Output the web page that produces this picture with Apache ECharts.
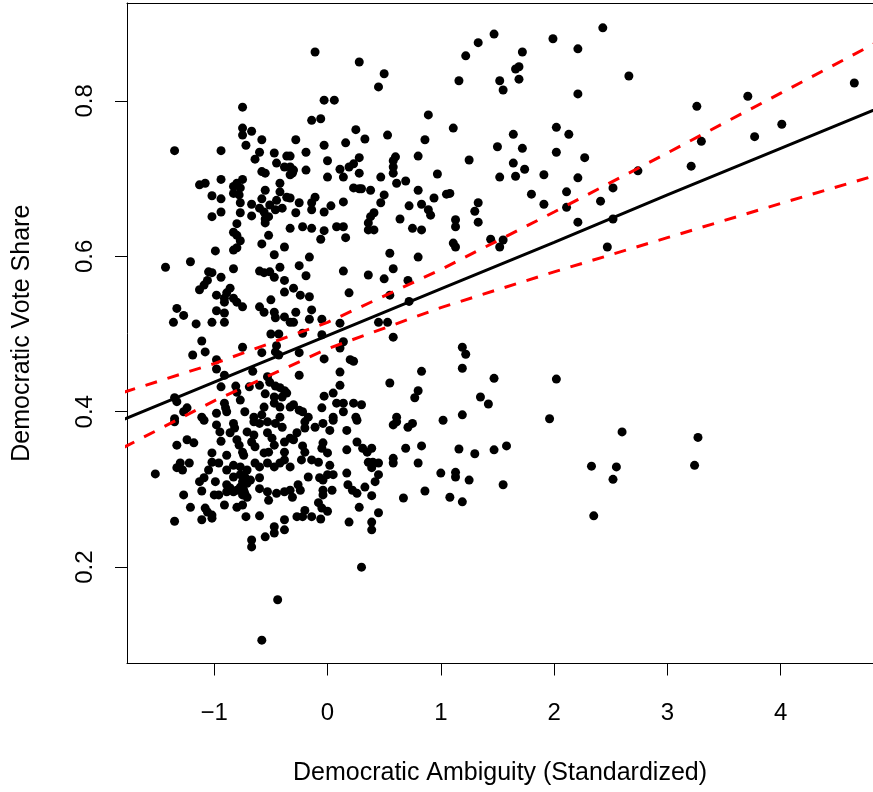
<!DOCTYPE html>
<html>
<head>
<meta charset="utf-8">
<script src="https://cdn.jsdelivr.net/npm/echarts@6/dist/echarts.min.js"></script>
<style>
  body { margin: 0; background: #fff; }
  #scatter { width: 873px; height: 792px; }
</style>
</head>
<body>
<div id="scatter"></div>
<script>
  // 数据点: [民主党模糊度(标准化), 民主党得票率]
  let points = [
    [2.43,0.894],[1.47,0.886],[1.33,0.875],[1.22,0.858],[1.99,0.880],[2.21,0.867],[1.72,0.863],[1.66,0.841],
    [1.69,0.844],[1.16,0.826],[1.52,0.826],[1.55,0.814],[1.69,0.828],[2.66,0.832],[2.21,0.809],[4.65,0.823],
    [3.71,0.806],[3.26,0.793],[4.01,0.770],[3.77,0.754],[3.30,0.748],[1.11,0.765],[2.02,0.766],[2.13,0.757],
    [1.64,0.757],[1.50,0.741],[1.72,0.739],[2.02,0.734],[2.27,0.727],[1.25,0.724],[1.64,0.720],[1.52,0.702],
    [1.66,0.703],[1.74,0.712],[1.91,0.705],[2.21,0.701],[2.74,0.710],[3.21,0.716],[1.80,0.680],[2.11,0.683],
    [1.08,0.681],[1.33,0.669],[1.30,0.658],[1.91,0.667],[2.11,0.663],[2.41,0.671],[2.52,0.688],[1.13,0.647],
    [1.13,0.638],[1.33,0.644],[2.21,0.644],[2.52,0.648],[1.44,0.622],[1.55,0.621],[1.52,0.612],[1.11,0.617],
    [1.13,0.612],[2.47,0.612],
    [1.19,0.483],[1.22,0.474],[1.19,0.456],[1.47,0.443],[2.02,0.442],[1.35,0.419],[1.42,0.410],[1.19,0.396],
    [1.96,0.391],[2.60,0.374],[3.27,0.367],[1.16,0.352],[1.30,0.346],[1.47,0.351],[1.58,0.356],[1.13,0.322],
    [1.13,0.316],[1.25,0.312],[1.55,0.306],[2.33,0.330],[2.55,0.329],[2.52,0.313],[3.24,0.331],[1.08,0.290],
    [1.19,0.284],[2.35,0.266],
    [-0.11,0.863],[0.28,0.850],[0.50,0.835],[0.45,0.818],[-0.03,0.801],[0.06,0.801],[-0.14,0.775],[-0.06,0.777],
    [0.89,0.782],[-0.28,0.750],[0.25,0.763],[0.33,0.751],[0.53,0.756],[0.86,0.750],[-0.03,0.743],[0.16,0.746],
    [-0.19,0.734],[-0.33,0.729],[0.00,0.723],[0.28,0.727],[0.60,0.728],[0.58,0.723],[0.58,0.715],[0.80,0.729],
    [-0.33,0.715],[-0.30,0.711],[-0.31,0.707],[-0.19,0.711],[0.11,0.712],[0.14,0.702],[0.19,0.715],[0.23,0.719],
    [0.28,0.707],[0.00,0.702],[0.47,0.702],[0.58,0.707],[0.97,0.706],[0.61,0.694],[0.69,0.697],[0.23,0.688],
    [0.28,0.687],[0.30,0.687],[0.38,0.685],[0.80,0.685],[1.05,0.680],[0.94,0.675],[0.50,0.679],[0.47,0.669],
    [-0.33,0.675],[-0.25,0.669],[-0.11,0.676],[-0.14,0.669],[-0.14,0.660],[-0.28,0.656],[-0.03,0.657],[0.03,0.665],
    [0.14,0.670],[0.72,0.665],[0.83,0.667],[0.89,0.660],[0.91,0.653],[0.41,0.656],[0.38,0.651],[0.36,0.643],
    [0.36,0.634],[0.41,0.634],[0.64,0.648],[-0.33,0.636],[-0.22,0.638],[-0.14,0.636],[-0.03,0.633],[-0.06,0.622],
    [0.08,0.638],[0.14,0.638],[0.16,0.624],[0.75,0.636],[0.83,0.634],[-0.16,0.599],[0.55,0.604],[0.80,0.599],
    [-0.75,0.792],[-0.75,0.765],[-0.67,0.761],[-0.75,0.756],[-0.58,0.750],[-0.72,0.743],[-1.35,0.736],[-0.94,0.736],
    [-0.60,0.734],[-0.64,0.725],[-0.47,0.733],[-0.36,0.729],[-0.45,0.720],[-0.38,0.715],[-0.58,0.709],[-0.55,0.707],
    [-0.33,0.705],[-0.94,0.699],[-0.75,0.699],[-1.13,0.692],[-1.08,0.694],[-0.83,0.690],[-0.80,0.694],[-0.77,0.688],
    [-0.83,0.681],[-0.78,0.679],[-0.42,0.694],[-0.55,0.685],[-0.42,0.683],[-0.36,0.676],[-1.02,0.678],[-0.94,0.674],
    [-0.77,0.669],[-0.58,0.674],[-0.67,0.667],[-0.51,0.666],[-0.45,0.672],[-0.40,0.662],[-0.46,0.660],[-0.60,0.662],
    [-0.56,0.657],[-0.94,0.657],[-0.77,0.656],[-1.02,0.651],[-0.67,0.652],[-0.55,0.648],[-0.55,0.643],[-0.52,0.651],
    [-0.80,0.642],[-0.83,0.631],[-0.80,0.627],[-0.52,0.627],[-0.77,0.620],[-0.58,0.616],[-0.38,0.612],[-0.99,0.607],
    [-0.83,0.608],[-0.80,0.611],[-0.47,0.602],[-1.21,0.593],
    [-1.43,0.586],[-1.05,0.580],[-1.02,0.579],[-0.83,0.584],[-0.94,0.573],[-0.60,0.581],[-0.56,0.579],[-0.51,0.580],
    [-0.42,0.586],[-0.47,0.573],[-0.38,0.569],[-1.06,0.569],[-1.09,0.563],[-1.13,0.557],[-0.86,0.559],[-0.89,0.553],
    [-0.91,0.546],[-0.98,0.550],[-0.83,0.546],[-0.80,0.541],[-0.75,0.535],[-0.91,0.541],[-1.33,0.533],[-1.27,0.524],
    [-1.36,0.515],[-1.16,0.513],[-0.98,0.530],[-0.91,0.527],[-1.02,0.515],[-0.91,0.515],[-0.60,0.535],[-0.56,0.528],
    [-0.50,0.544],[-0.38,0.554],[-0.47,0.528],[-0.46,0.521],[-0.38,0.522],[-0.33,0.515],[-0.50,0.500],[-0.43,0.500],
    [-1.11,0.491],[-1.08,0.477],[-1.19,0.473],[-0.75,0.483],[-0.58,0.476],[-0.45,0.485],[-0.46,0.477],[-0.43,0.473],
    [-0.98,0.467],[-0.98,0.455],[-0.66,0.452],[-0.91,0.447],[-0.53,0.445],[-0.51,0.438],[-0.46,0.433],[-0.42,0.431],
    [-0.38,0.427],[-0.94,0.432],[-0.81,0.433],[-0.69,0.432],[-0.60,0.434],[-1.35,0.418],[-1.33,0.413],[-0.55,0.423],
    [-0.47,0.419],[-0.40,0.419],[-0.36,0.424],[-0.80,0.425],[-0.91,0.411],[-0.90,0.405],[-0.77,0.415],[-1.24,0.405],
    [-1.27,0.400],[-0.98,0.398],[-0.89,0.400],[-0.73,0.400],[-0.56,0.406],[-0.58,0.396],[-0.47,0.411],[-0.42,0.406],
    [-0.33,0.406],[-0.42,0.393],[-0.65,0.393],[-1.11,0.393],[-1.35,0.391],
    [-0.25,0.588],[0.14,0.581],[-0.19,0.575],[0.36,0.576],[0.58,0.584],[0.50,0.571],[0.71,0.569],[0.19,0.553],
    [-0.30,0.559],[-0.24,0.550],[-0.16,0.548],[0.55,0.550],[0.72,0.542],[-0.14,0.531],[-0.28,0.528],[-0.16,0.519],
    [-0.30,0.515],[-0.05,0.519],[0.11,0.514],[0.45,0.515],[0.53,0.515],[-0.22,0.501],[-0.05,0.499],[0.58,0.496],
    [0.14,0.490],[0.11,0.482],[-0.25,0.476],[-0.03,0.468],[0.20,0.467],[0.23,0.465],[0.11,0.451],[-0.25,0.447],
    [0.83,0.452],[0.55,0.437],[0.11,0.434],[0.80,0.427],[0.77,0.418],[-0.03,0.420],[0.05,0.424],[-0.30,0.409],
    [-0.25,0.402],[-0.22,0.400],[-0.05,0.405],[0.08,0.411],[0.14,0.411],[0.23,0.411],[0.30,0.409],[0.14,0.400],
    [0.05,0.393],[-0.17,0.393],[0.25,0.393],[0.61,0.393],[1.02,0.389],
    [-1.35,0.387],[-1.09,0.389],[-0.98,0.383],[-0.95,0.374],[-0.83,0.385],[-0.82,0.379],[-0.65,0.387],[-0.60,0.385],
    [-0.53,0.387],[-0.46,0.385],[-0.40,0.380],[-0.71,0.374],[-0.65,0.370],[-1.33,0.357],[-1.24,0.364],[-1.18,0.360],
    [-0.94,0.362],[-0.86,0.373],[-0.80,0.364],[-0.78,0.357],[-0.67,0.361],[-0.64,0.355],[-0.53,0.373],[-0.49,0.366],
    [-0.47,0.357],[-0.38,0.361],[-0.33,0.366],[-0.75,0.348],[-0.74,0.344],[-1.02,0.347],[-0.89,0.344],[-0.56,0.347],
    [-0.52,0.348],[-0.38,0.348],[-1.30,0.334],[-1.33,0.328],[-1.28,0.325],[-1.22,0.334],[-1.52,0.320],[-1.02,0.335],
    [-0.96,0.334],[-0.83,0.331],[-0.77,0.329],[-0.71,0.325],[-0.89,0.325],[-0.64,0.334],[-0.60,0.329],[-0.53,0.334],
    [-0.47,0.329],[-0.42,0.334],[-0.38,0.338],[-0.33,0.329],[-1.05,0.325],[-0.83,0.316],[-0.77,0.319],[-0.73,0.316],
    [-0.75,0.310],[-0.71,0.308],[-0.68,0.312],[-0.60,0.315],[-1.13,0.310],[-1.09,0.315],[-0.99,0.310],[-0.89,0.306],
    [-0.86,0.302],[-0.89,0.297],[-0.83,0.297],[-0.80,0.299],[-0.77,0.303],[-0.74,0.299],[-0.73,0.295],[-0.71,0.290],
    [-0.75,0.293],[-1.11,0.298],[-1.00,0.293],[-0.96,0.293],[-0.60,0.301],[-0.53,0.297],[-0.52,0.286],[-0.45,0.295],
    [-0.38,0.297],[-0.33,0.299],[-1.27,0.293],[-0.91,0.280],[-0.80,0.277],[-0.75,0.280],[-1.21,0.277],[-1.08,0.276],
    [-1.06,0.271],[-1.02,0.267],[-1.02,0.263],[-1.11,0.261],[-1.35,0.259],[-0.72,0.265],[-0.60,0.266],[-0.38,0.261],
    [-0.47,0.252],[-0.47,0.244],[-0.38,0.248],[-0.55,0.239],[-0.67,0.235],[-0.67,0.226],
    [-0.20,0.387],[-0.11,0.380],[-0.04,0.385],[0.05,0.389],[-0.20,0.379],[-0.27,0.373],[-0.30,0.364],[0.02,0.376],
    [0.17,0.376],[0.26,0.389],[0.58,0.383],[0.61,0.387],[0.71,0.380],[0.75,0.385],[-0.22,0.356],[-0.20,0.348],
    [-0.23,0.338],[-0.04,0.360],[-0.05,0.353],[0.00,0.347],[-0.14,0.338],[-0.08,0.335],[0.02,0.331],[0.05,0.319],
    [0.00,0.319],[-0.07,0.315],[-0.04,0.312],[-0.17,0.316],[0.17,0.351],[0.26,0.361],[0.31,0.353],[0.35,0.348],
    [0.39,0.353],[0.36,0.335],[0.40,0.335],[0.45,0.334],[0.39,0.328],[0.17,0.321],[0.45,0.319],[0.42,0.310],
    [0.58,0.340],[0.58,0.334],[0.69,0.353],[0.83,0.356],[0.80,0.334],[1.00,0.321],[-0.26,0.306],[-0.24,0.299],
    [-0.31,0.290],[-0.04,0.299],[-0.04,0.293],[0.04,0.299],[0.18,0.306],[0.22,0.299],[0.26,0.295],[0.33,0.303],
    [0.39,0.292],[0.28,0.277],[0.45,0.270],[-0.08,0.283],[-0.05,0.276],[0.00,0.272],[-0.20,0.273],[-0.27,0.265],
    [-0.22,0.265],[-0.14,0.265],[-0.06,0.262],[0.19,0.258],[0.39,0.258],[0.39,0.248],[0.67,0.289],[0.86,0.298],
    [0.30,0.200],[-0.44,0.158],[-0.58,0.106]
  ];

  // 回归线和置信区间
  let bandX  = [-1.8, -1, 0, 1, 2, 3, 4, 5];
  let fitY   = [0.390, 0.438, 0.498, 0.558, 0.618, 0.679, 0.739, 0.799];
  let upperY = [0.425, 0.462, 0.515, 0.583, 0.657, 0.733, 0.810, 0.887];
  let lowerY = [0.354, 0.414, 0.481, 0.534, 0.580, 0.624, 0.668, 0.711];

  // 刻度
  let xTicks = [-1, 0, 1, 2, 3, 4];
  let yTicks = [0.2, 0.4, 0.6, 0.8];

  function pairs(xs, ys) {
    return xs.map(function (x, i) { return [x, ys[i]]; });
  }

  let font = 'Liberation Sans, Arial, sans-serif';
  let chart = echarts.init(document.getElementById('scatter'));

  chart.setOption({
    animation: false,
    backgroundColor: '#fff',
    grid: { left: 127, top: 3, right: 0, bottom: 128.5 },
    xAxis: [{
      type: 'value',
      min: -1.77,
      max: 4.815,
      name: 'Democratic Ambiguity (Standardized)',
      nameLocation: 'middle',
      nameGap: 97,
      nameTextStyle: { color: '#000', fontSize: 25, fontFamily: font },
      splitLine: { show: false },
      axisLine: { onZero: false, lineStyle: { color: '#000', width: 1 } },
      axisTick: { customValues: xTicks, length: 12, lineStyle: { color: '#000' } },
      axisLabel: {
        customValues: xTicks,
        margin: 38,
        color: '#000',
        fontSize: 24,
        fontFamily: font,
        formatter: function (v) { return v < 0 ? '\u2212' + Math.abs(v) : String(v); }
      }
    }, {
      // 上边框
      type: 'value',
      position: 'top',
      min: -1.77,
      max: 4.815,
      splitLine: { show: false },
      axisLine: { onZero: false, lineStyle: { color: '#000', width: 1 } },
      axisTick: { show: false },
      axisLabel: { show: false }
    }],
    yAxis: {
      type: 'value',
      min: 0.076,
      max: 0.926,
      name: 'Democratic Vote Share',
      nameLocation: 'middle',
      nameGap: 92,
      nameTextStyle: { color: '#000', fontSize: 25, fontFamily: font },
      splitLine: { show: false },
      axisLine: { onZero: false, lineStyle: { color: '#000', width: 1 } },
      axisTick: { customValues: yTicks, length: 12, lineStyle: { color: '#000' } },
      axisLabel: {
        customValues: yTicks,
        rotate: 90,
        margin: 30,
        color: '#000',
        fontSize: 24,
        fontFamily: font,
        formatter: function (v) { return v.toFixed(1); }
      }
    },
    series: [
      {
        type: 'scatter',
        data: points,
        symbolSize: 9,
        itemStyle: { color: '#000', opacity: 1 }
      },
      {
        type: 'line',
        data: pairs(bandX, fitY),
        showSymbol: false,
        lineStyle: { color: '#000', width: 3 }
      },
      {
        type: 'line',
        data: pairs(bandX, upperY),
        showSymbol: false,
        lineStyle: { color: '#ff0000', width: 3, type: [12, 11] }
      },
      {
        type: 'line',
        data: pairs(bandX, lowerY),
        showSymbol: false,
        lineStyle: { color: '#ff0000', width: 3, type: [12, 11] }
      }
    ]
  });
</script>
</body>
</html>
